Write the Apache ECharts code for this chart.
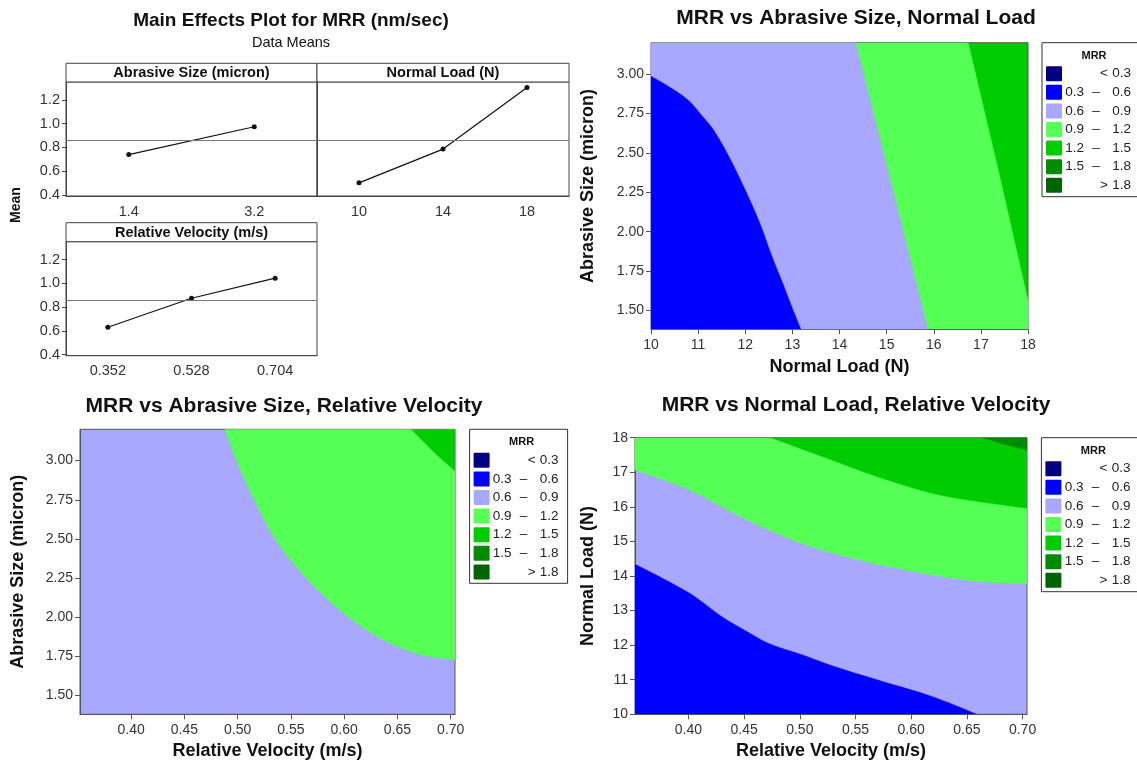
<!DOCTYPE html>
<html>
<head>
<meta charset="utf-8">
<script src="https://cdn.jsdelivr.net/npm/echarts@6/dist/echarts.min.js"></script>
<style>
  html, body { margin: 0; padding: 0; background: #fff; }
  #chart { width: 1137px; height: 767px; }
</style>
</head>
<body>
<div id="chart"></div>
<script>
const FONT = '"Liberation Sans", Arial, sans-serif';

// Main effects (data means)
const abrasiveLevels = ['1.4', '3.2'];
const abrasiveMeans = [0.739, 0.973];
const loadLevels = ['10', '14', '18'];
const loadMeans = [0.501, 0.785, 1.304];
const velocityLevels = ['0.352', '0.528', '0.704'];
const velocityMeans = [0.630, 0.874, 1.043];
const grandMean = 0.856;
const meanTicks = [0.4, 0.6, 0.8, 1.0, 1.2];

// Contour legend
const mrrLabels = [['<', '0.3'], ['0.3', '0.6'], ['0.6', '0.9'], ['0.9', '1.2'], ['1.2', '1.5'], ['1.5', '1.8'], ['>', '1.8']];
const mrrColors = ['#000080', '#0000ff', '#a8a8ff', '#55ff55', '#00cc00', '#008c00', '#006400'];

const sizeTicks = [1.5, 1.75, 2.0, 2.25, 2.5, 2.75, 3.0];
const velocityTicks = [0.4, 0.45, 0.5, 0.55, 0.6, 0.65, 0.7];

// MRR vs Abrasive Size (y), Normal Load (x): contour boundaries
const snBound06 = [[10, 2.987], [10.33, 2.93], [10.79, 2.835], [11.1, 2.729], [11.33, 2.644], [11.58, 2.517],
  [11.8, 2.39], [12.1, 2.199], [12.34, 2.03], [12.57, 1.839], [12.8, 1.669], [12.99, 1.521], [13.18, 1.38]];
const snBound09 = [[14.34, 3.2], [15.1, 2.3], [15.87, 1.38]];
const snBound12 = [[16.73, 3.2], [17.4, 2.35], [18, 1.56]];

// MRR vs Abrasive Size (y), Relative Velocity (x)
const svBound09 = [[0.488, 3.2], [0.502, 2.951], [0.518, 2.717], [0.537, 2.482], [0.559, 2.291], [0.587, 2.099],
  [0.612, 1.961], [0.637, 1.855], [0.671, 1.763], [0.704, 1.728]];
const svBound12 = [[0.663, 3.2], [0.685, 3.05], [0.704, 2.934]];

// MRR vs Normal Load (y), Relative Velocity (x)
const nvBound06 = [[0.352, 14.34], [0.401, 13.5], [0.43, 12.82], [0.45, 12.44], [0.472, 12.05], [0.502, 11.72],
  [0.531, 11.38], [0.57, 10.99], [0.619, 10.51], [0.659, 10.0]];
const nvBound09 = [[0.352, 17.07], [0.401, 16.49], [0.45, 15.67], [0.502, 14.94], [0.554, 14.46], [0.602, 14.13],
  [0.651, 13.88], [0.704, 13.77]];
const nvBound12 = [[0.474, 18], [0.521, 17.45], [0.57, 16.87], [0.619, 16.39], [0.651, 16.2], [0.704, 15.96]];
const nvBound15 = [[0.664, 18], [0.685, 17.8], [0.704, 17.64]];

const snX = [10, 18], snY = [1.38, 3.2];
const svX = [0.352, 0.704], svY = [1.38, 3.2];
const nvX = [0.352, 0.704], nvY = [10, 18];

const chart = echarts.init(document.getElementById('chart'));

// a filled band: area between a boundary line and the bottom ('start') or top ('end') of the plot
function band(idx, points, level, origin, smooth) {
  const c = mrrColors[level];
  return {
    type: 'line',
    xAxisIndex: idx,
    yAxisIndex: idx,
    data: points,
    silent: true,
    symbol: 'none',
    showSymbol: false,
    smooth: smooth ? 0.35 : false,
    itemStyle: { color: c },
    lineStyle: { color: c, width: 0.5 },
    areaStyle: { color: c, opacity: 1, origin: origin },
  };
}

function effectSeries(idx, values) {
  return {
    type: 'line',
    xAxisIndex: idx,
    yAxisIndex: idx,
    data: values,
    symbol: 'circle',
    symbolSize: 5,
    lineStyle: { color: '#111', width: 1.2 },
    itemStyle: { color: '#111' },
    markLine: {
      silent: true,
      symbol: 'none',
      label: { show: false },
      lineStyle: { color: '#777', width: 1, type: 'solid' },
      data: [{ yAxis: grandMean }],
    },
  };
}

function effectX(idx, cats) {
  return {
    type: 'category', gridIndex: idx, data: cats,
    axisLine: { lineStyle: { color: '#444' } },
    axisTick: { alignWithLabel: true, length: 4, lineStyle: { color: '#444' } },
    axisLabel: { fontSize: 14.5, color: '#333', margin: 8, fontFamily: FONT },
  };
}

function effectY(idx, labels) {
  return {
    type: 'value', gridIndex: idx, min: 0.39, max: 1.35,
    splitLine: { show: false },
    axisLine: { show: true, lineStyle: { color: '#444' } },
    axisTick: { show: labels, length: 4, customValues: meanTicks, lineStyle: { color: '#444' } },
    axisLabel: {
      show: labels, customValues: meanTicks, fontSize: 14.5, color: '#333', margin: 6, fontFamily: FONT,
      formatter: (v) => v.toFixed(1),
    },
  };
}

function contourAxis(idx, dim, range, opts) {
  const ax = {
    type: 'value', gridIndex: idx, min: range[0], max: range[1],
    name: opts.name, nameLocation: 'middle', nameGap: opts.gap,
    nameTextStyle: { fontSize: 18, fontWeight: 'bold', color: '#111', fontFamily: FONT },
    splitLine: { show: false },
    axisLine: { show: true, onZero: false, lineStyle: { color: '#555' } },
    axisTick: { length: 5, lineStyle: { color: '#555' } },
    axisLabel: { fontSize: 14, color: '#333', margin: dim === 'x' ? 9 : 7, fontFamily: FONT, formatter: opts.fmt },
  };
  if (opts.ticks) {
    ax.axisTick.customValues = opts.ticks;
    ax.axisLabel.customValues = opts.ticks;
  } else {
    ax.interval = 1;
  }
  return ax;
}

function legendGraphic(left, top) {
  const els = [
    { type: 'rect', shape: { x: left, y: top, width: 98, height: 154 }, style: { fill: '#fff', stroke: '#333', lineWidth: 1 } },
    { type: 'text', style: { text: 'MRR', x: left + 52, y: top + 13, align: 'center', verticalAlign: 'middle',
      font: 'bold 11px ' + FONT, fill: '#111' } },
  ];
  mrrLabels.forEach((lab, i) => {
    const cy = top + 31 + i * 18.6;
    const ts = { verticalAlign: 'middle', font: '13.5px ' + FONT, fill: '#222', y: cy };
    els.push({ type: 'rect', shape: { x: left + 4, y: cy - 7.5, width: 16, height: 15, r: 1 }, style: { fill: mrrColors[i] } });
    if (lab[0] === '<' || lab[0] === '>') {
      els.push({ type: 'text', style: Object.assign({ text: lab[0], x: left + 62, align: 'center' }, ts) });
    } else {
      els.push({ type: 'text', style: Object.assign({ text: lab[0], x: left + 42, align: 'right' }, ts) });
      els.push({ type: 'text', style: Object.assign({ text: '–', x: left + 54, align: 'center' }, ts) });
    }
    els.push({ type: 'text', style: Object.assign({ text: lab[1], x: left + 89, align: 'right' }, ts) });
  });
  return els;
}

function strip(x, y, w, h, text) {
  return [
    { type: 'rect', shape: { x: x, y: y, width: w, height: h }, style: { fill: '#fff', stroke: '#444', lineWidth: 1 } },
    { type: 'text', style: { text: text, x: x + w / 2, y: y + h / 2 + 0.5, align: 'center', verticalAlign: 'middle',
      font: 'bold 14.5px ' + FONT, fill: '#111' } },
  ];
}

function label(text, x, y, font, rotate) {
  return {
    type: 'text', x: x, y: y, rotation: rotate ? Math.PI / 2 : 0,
    style: { text: text, x: 0, y: 0, align: 'center', verticalAlign: 'middle', font: font, fill: '#111' },
  };
}

const titleFont = 'bold 21px ' + FONT;
const fmt2 = (v) => v.toFixed(2);
const effGrid = { show: true, borderColor: '#444', borderWidth: 1 };
const conGrid = { show: true, borderColor: '#555', borderWidth: 1 };

chart.setOption({
  animation: false,
  backgroundColor: '#fff',
  textStyle: { fontFamily: FONT },
  grid: [
    Object.assign({ left: 66, top: 82, width: 251, height: 114 }, effGrid),
    Object.assign({ left: 317, top: 82, width: 252, height: 114 }, effGrid),
    Object.assign({ left: 66, top: 241.7, width: 251, height: 114 }, effGrid),
    Object.assign({ left: 651, top: 42.7, width: 377, height: 286.6, backgroundColor: mrrColors[4] }, conGrid),
    Object.assign({ left: 80, top: 429.3, width: 375, height: 285, backgroundColor: mrrColors[2] }, conGrid),
    Object.assign({ left: 635, top: 437.7, width: 392, height: 276.6, backgroundColor: mrrColors[2] }, conGrid),
  ],
  xAxis: [
    effectX(0, abrasiveLevels),
    effectX(1, loadLevels),
    effectX(2, velocityLevels),
    contourAxis(3, 'x', snX, { name: 'Normal Load (N)', gap: 29 }),
    contourAxis(4, 'x', svX, { name: 'Relative Velocity (m/s)', gap: 28, ticks: velocityTicks, fmt: fmt2 }),
    contourAxis(5, 'x', nvX, { name: 'Relative Velocity (m/s)', gap: 28, ticks: velocityTicks, fmt: fmt2 }),
  ],
  yAxis: [
    effectY(0, true),
    effectY(1, false),
    effectY(2, true),
    contourAxis(3, 'y', snY, { name: 'Abrasive Size (micron)', gap: 54, ticks: sizeTicks, fmt: fmt2 }),
    contourAxis(4, 'y', svY, { name: 'Abrasive Size (micron)', gap: 53, ticks: sizeTicks, fmt: fmt2 }),
    contourAxis(5, 'y', nvY, { name: 'Normal Load (N)', gap: 38 }),
  ],
  series: [
    effectSeries(0, abrasiveMeans),
    effectSeries(1, loadMeans),
    effectSeries(2, velocityMeans),
    // Abrasive Size vs Normal Load
    band(3, [[snX[0], snY[1]], ...snBound12], 3, 'start', false),
    band(3, [[snX[0], snY[1]], ...snBound09], 2, 'start', false),
    band(3, snBound06, 1, 'start', true),
    // Abrasive Size vs Relative Velocity
    band(4, svBound09, 3, 'end', true),
    band(4, svBound12, 4, 'end', true),
    // Normal Load vs Relative Velocity
    band(5, nvBound09, 3, 'end', true),
    band(5, nvBound12, 4, 'end', true),
    band(5, nvBound15, 5, 'end', true),
    band(5, nvBound06, 1, 'start', true),
  ],
  graphic: [
    label('Main Effects Plot for MRR (nm/sec)', 291, 21, 'bold 19px ' + FONT),
    label('Data Means', 291, 43, '14.5px ' + FONT),
    label('Mean', 16, 205, 'bold 14px ' + FONT, true),
    ...strip(66, 63.3, 251, 18.7, 'Abrasive Size (micron)'),
    ...strip(317, 63.3, 252, 18.7, 'Normal Load (N)'),
    ...strip(66, 222.7, 251, 19, 'Relative Velocity (m/s)'),
    label('MRR vs Abrasive Size, Normal Load', 856, 18, titleFont),
    label('MRR vs Abrasive Size, Relative Velocity', 284, 406, titleFont),
    label('MRR vs Normal Load, Relative Velocity', 856, 405, titleFont),
    ...legendGraphic(1042, 42.7),
    ...legendGraphic(469.6, 429.3),
    ...legendGraphic(1041.4, 437.7),
  ],
});
</script>
</body>
</html>
